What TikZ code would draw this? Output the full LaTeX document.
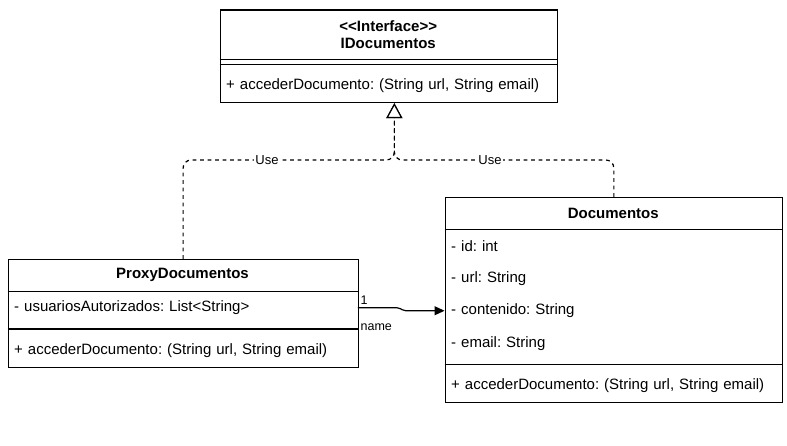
\documentclass[tikz,border=0pt]{standalone}
\usepackage{fontspec}
\setmainfont{Liberation Sans}
\usetikzlibrary{arrows.meta}
\frenchspacing
\begin{document}
\begin{tikzpicture}[x=1pt,y=-1pt,
  box/.style={draw, line width=1.2pt, fill=white, inner sep=0pt, anchor=north west},
  rowtxt/.style={inner xsep=6.5pt, inner ysep=0pt, minimum height=32.5pt, anchor=west, align=left, font=\fontsize{15}{18}\selectfont},
  ttl/.style={font=\bfseries\fontsize{15}{17}\selectfont, inner sep=0pt, align=center},
  sepline/.style={line width=1.2pt},
  usedge/.style={draw, line width=1.2pt, dash pattern=on 3.75pt off 3.75pt, rounded corners=8pt,
    -{Triangle[open, length=15pt, width=16pt, fill=white, line width=1.2pt]}},
  assoc/.style={draw, line width=1.2pt, rounded corners=2pt, -{Triangle[length=10pt, width=9pt]}},
  lbl/.style={font=\fontsize{13}{15}\selectfont, fill=white, inner sep=1pt},
  endlbl/.style={font=\fontsize{12.5}{14}\selectfont, inner sep=1pt, anchor=west}
]
\useasboundingbox[fill=white] (0,0) rectangle (787,446);

% ---------- IDocumentos (interface) ----------
\node[box, minimum width=337.5pt, minimum height=92.5pt] (iface) at (219.5,9.5) {};
\node[ttl] (ititle) at (388.25,34.5) {<{}<Interface>{}>\\IDocumentos};
\draw[sepline] (219.5,59.5) -- (557,59.5);
\draw[sepline] (219.5,64.5) -- (557,64.5);
\node[rowtxt, text width=324.5pt] (imeth) at (219.5,85.75) {+ accederDocumento: (String url, String email)};

% ---------- ProxyDocumentos ----------
\node[box, minimum width=350pt, minimum height=107.5pt] (proxy) at (7.5,259) {};
\node[ttl] (ptitle) at (182.5,275.25) {ProxyDocumentos};
\draw[sepline] (7.5,291.5) -- (357.5,291.5);
\node[rowtxt, text width=337pt] (pattr) at (7.5,307.75) {- usuariosAutorizados: List<String>};
\draw[sepline] (7.5,329) -- (357.5,329);
\node[rowtxt, text width=337pt] (pmeth) at (7.5,350.25) {+ accederDocumento: (String url, String email)};

% ---------- Documentos ----------
\node[box, minimum width=337.5pt, minimum height=205pt] (docs) at (444.5,197) {};
\node[ttl] (dtitle) at (613.25,213.25) {Documentos};
\draw[sepline] (444.5,229.5) -- (782,229.5);
\node[rowtxt, text width=324.5pt] (did) at (444.5,245.75) {- id: int};
\node[rowtxt, text width=324.5pt] (durl) at (444.5,278.25) {- url: String};
\node[rowtxt, text width=324.5pt] (dcont) at (444.5,310.75) {- contenido: String};
\node[rowtxt, text width=324.5pt] (dmail) at (444.5,343.25) {- email: String};
\draw[sepline] (444.5,364.5) -- (782,364.5);
\node[rowtxt, text width=324.5pt] (dmeth) at (444.5,385.75) {+ accederDocumento: (String url, String email)};

% ---------- realization edges ----------
\coordinate (tip) at ([xshift=5.5pt]iface.south);
\draw[usedge] (proxy.north) -- ++(0,-99) -| (tip);
\draw[usedge] (docs.north) -- ++(0,-37) -| (tip);
\node[lbl] (use1) at (267,160) {Use};
\node[lbl] (use2) at (490,160) {Use};

% ---------- association ----------
\draw[assoc] (pattr.east) -- ++(41,0) -- ++(5,3) -- (dcont.west);
\node[endlbl] (one) at ([xshift=1.5pt,yshift=8pt]pattr.east) {1};
\node[endlbl] (nm) at ([xshift=1.5pt,yshift=-19pt]pattr.east) {name};
\end{tikzpicture}
\end{document}
